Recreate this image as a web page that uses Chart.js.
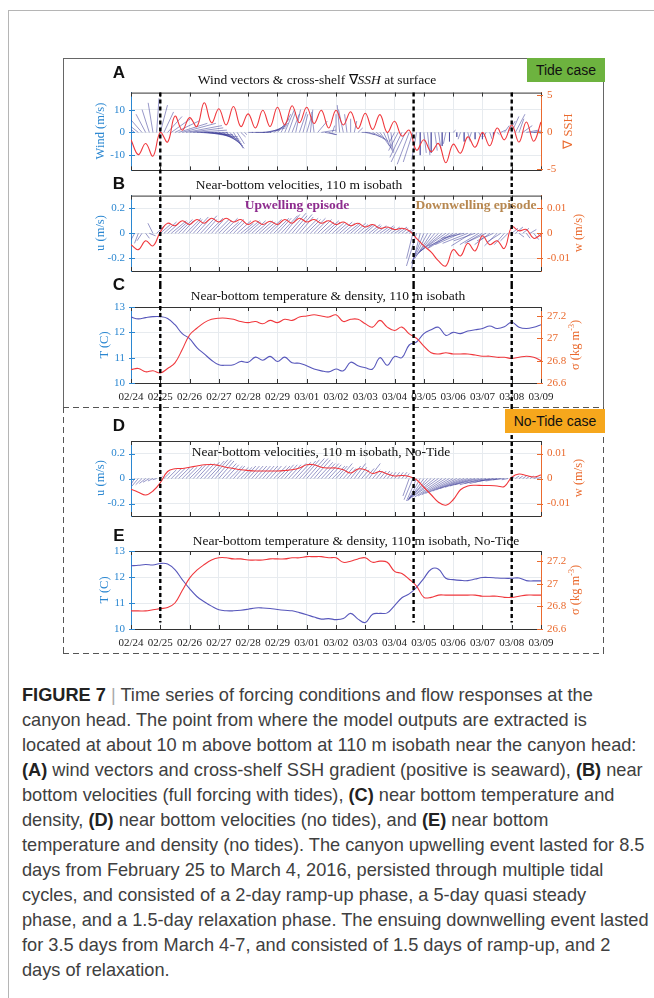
<!DOCTYPE html>
<html>
<head>
<meta charset="utf-8">
<script src="https://cdn.jsdelivr.net/npm/chart.js@4.4.1/dist/chart.umd.min.js"></script>
<style>
  body { margin: 0; background: #fff; }
  #page { position: relative; width: 654px; height: 998px; overflow: hidden; background: #fff; }
  canvas { position: absolute; }
  .t { position: absolute; white-space: nowrap; font-family: 'Liberation Serif', 'Times New Roman', serif; font-size: 13.5px; color: #111; line-height: 1; transform: translate(-50%, -50%); }
  .lbl { position: absolute; font-family: 'Liberation Sans', Arial, sans-serif; font-weight: bold; font-size: 17px; color: #111; line-height: 1; transform: translate(-50%, -50%); }
  .ax { position: absolute; white-space: nowrap; font-family: 'Liberation Serif', serif; font-size: 12.5px; line-height: 1; transform: translate(-50%, -50%) rotate(-90deg); }
  .axl { color: #2b87d1; }
  .axr { color: #ea6a2e; }
  .case { position: absolute; font-family: 'Liberation Sans', Arial, sans-serif; font-size: 14px; color: #111; display: flex; align-items: center; justify-content: center; }
  .hd { position: absolute; height: 1px; background: repeating-linear-gradient(to right, #555 0 6px, transparent 6px 10px); }
  .vd { position: absolute; width: 1px; background: repeating-linear-gradient(to bottom, #555 0 6px, transparent 6px 10px); }
  #cap { position: absolute; left: 22px; top: 683px; font-family: 'Liberation Sans', Arial, sans-serif; font-size: 18.2px; line-height: 25px; color: #404040; white-space: nowrap; }
  #cap b { color: #222; }
</style>
</head>
<body>
<div id="page">
  <div style="position:absolute;left:8px;top:10px;width:660px;height:1px;background:#b5b5b5"></div>
  <div style="position:absolute;left:8px;top:10px;width:1px;height:1000px;background:#b5b5b5"></div>

  <div style="position:absolute;left:63px;top:58px;width:539px;height:349px;border:1px solid #666;border-bottom:none"></div>
  <div class="hd" style="left:63px;top:407px;width:541px"></div>
  <div class="vd" style="left:63px;top:407px;height:247px"></div>
  <div class="vd" style="left:603px;top:407px;height:247px"></div>
  <div class="hd" style="left:63px;top:653px;width:541px"></div>

  <canvas id="cA" width="520" height="103" style="left:70px;top:80px"></canvas>
  <canvas id="cB" width="520" height="102" style="left:70px;top:183px"></canvas>
  <canvas id="cC" width="520" height="122" style="left:70px;top:285px"></canvas>
  <canvas id="cD" width="520" height="123" style="left:70px;top:407px"></canvas>
  <canvas id="cE" width="520" height="130" style="left:70px;top:530px"></canvas>

  <div class="case" style="left:527px;top:58px;width:78px;height:24px;background:#6db33f">Tide case</div>
  <div class="case" style="left:505px;top:409px;width:100px;height:24px;background:#f6a71c">No-Tide case</div>

  <div class="lbl" style="left:119px;top:72px">A</div>
  <div class="lbl" style="left:119px;top:183px">B</div>
  <div class="lbl" style="left:119px;top:284px">C</div>
  <div class="lbl" style="left:119px;top:425px">D</div>
  <div class="lbl" style="left:119px;top:535px">E</div>

  <div class="t" style="left:317px;top:80px">Wind vectors &amp; cross-shelf &#8711;<i>SSH</i> at surface</div>
  <div class="t" style="left:299px;top:185px">Near-bottom velocities, 110 m isobath</div>
  <div class="t" style="left:328px;top:296px">Near-bottom temperature &amp; density, 110 m isobath</div>
  <div class="t" style="left:321px;top:452px">Near-bottom velocities, 110 m isobath, No-Tide</div>
  <div class="t" style="left:356px;top:541px">Near-bottom temperature &amp; density, 110 m isobath, No-Tide</div>
  <div class="t" style="left:297px;top:205px;font-weight:bold;color:#8e2c8e">Upwelling episode</div>
  <div class="t" style="left:476px;top:205px;font-weight:bold;color:#b7874f">Downwelling episode</div>

  <div class="ax axl" style="left:100px;top:131px">Wind (m/s)</div>
  <div class="ax axl" style="left:100px;top:233px">u (m/s)</div>
  <div class="ax axl" style="left:104px;top:345px">T (C)</div>
  <div class="ax axl" style="left:100px;top:478px">u (m/s)</div>
  <div class="ax axl" style="left:104px;top:590px">T (C)</div>
  <div class="ax axr" style="left:568px;top:131px">&#8711; SSH</div>
  <div class="ax axr" style="left:578px;top:233px">w (m/s)</div>
  <div class="ax axr" style="left:575px;top:345px">&sigma; (kg m<sup style="font-size:8px">-3</sup>)</div>
  <div class="ax axr" style="left:578px;top:478px">w (m/s)</div>
  <div class="ax axr" style="left:575px;top:590px">&sigma; (kg m<sup style="font-size:8px">-3</sup>)</div>

  <div id="cap"><b>FIGURE 7</b> <span style="color:#aaa">|</span> Time series of forcing conditions and flow responses at the<br>canyon head. The point from where the model outputs are extracted is<br>located at about 10 m above bottom at 110 m isobath near the canyon head:<br><b>(A)</b> wind vectors and cross-shelf SSH gradient (positive is seaward), <b>(B)</b> near<br>bottom velocities (full forcing with tides), <b>(C)</b> near bottom temperature and<br>density, <b>(D)</b> near bottom velocities (no tides), and <b>(E)</b> near bottom<br>temperature and density (no tides). The canyon upwelling event lasted for 8.5<br>days from February 25 to March 4, 2016, persisted through multiple tidal<br>cycles, and consisted of a 2-day ramp-up phase, a 5-day quasi steady<br>phase, and a 1.5-day relaxation phase. The ensuing downwelling event lasted<br>for 3.5 days from March 4-7, and consisted of 1.5 days of ramp-up, and 2<br>days of relaxation.</div>
</div>

<script>
// x axis: days since 02/24 (2016), one tick per day
const tickLabels = ['02/24', '02/25', '02/26', '02/27', '02/28', '02/29', '03/01', '03/02',
  '03/03', '03/04', '03/05', '03/06', '03/07', '03/08', '03/09'];
const eventDays = [1.0, 9.65, 13.0];   // dotted black markers
const lineStep = 0.25;    // days between samples of the line series
const stickStep = 0.125;  // days between vectors of the stick plots

// A: wind vectors (m/s) and cross-shelf SSH gradient
const windU = [
  -4, -5, -6, -5, -4, -3, -2, 1,
  3, 4, 6, 8, 10, 12, 14, 15,
  14, 14, 13, 12, 12, 11, 11, 10,
  9, 8, 7, 6, 4, 3, 2, 1,
  2, 3, 4, 5, 7, 8, 7, 6,
  5, 4, 4, 3, 3, 2, 3, 2,
  2, 1, -1, 4, 6, 5, 3, 1,
  0, -1, -2, -1, 0, 1, 2, 3,
  4, 5, 5, 5, 4, 3, 2, 1,
  -2, -4, -5, -6, -5, -4, -2, 0,
  1, 1, 0, 1, 1, 0, -1, 0,
  1, 0, -1, 0, 1, -1, 0, 1,
  0, -1, 1, 0, 1, 2, 2, 3,
  3, 4, 2, 4, 5, 6, 5, 4,
  3];
const windV = [
  3, 4, 5, 6, 8, 10, 13, 15,
  12, 9, 7, 6, 5, 4, 4, 3,
  2, 1, 0, -1, -1, -2, -2, -3,
  -4, -5, -6, -7, -7, -5, -2, -1,
  0, 0, 0, 0, 1, 2, 3, 4,
  6, 8, 10, 9, 8, 10, 9, 8,
  7, 10, 9, 5, 1, -1, -1, 3,
  8, 12, 10, 8, 6, 5, 2, 0,
  -1, -2, -3, -4, -6, -7, -8, -9,
  -4, -8, -11, -13, -14, -13, -12, -10,
  -9, -10, -9, -8, -7, -6, -5, -4,
  1, -2, -3, -4, -4, -3, -3, -2,
  -3, -2, -3, -2, -1, 1, 3, 5,
  7, 8, 6, 3, 1, 0, 1, -1,
  1];
const sshGrad = [-1.0, -3.0, -1.5, -3.2, 0.0, -1.3, 2.2, 0.3, 2.0, 0.8, 4.0, 1.3, 3.2, 1.0, 3.5,
  0.8, 2.5, 0.6, 3.0, 0.8, 3.4, 1.0, 3.6, 1.3, 3.4, 1.2, 3.0, 0.6, 3.0, 1.0, 2.8, 0.5, 2.6,
  0.4, 2.4, 0.0, 1.5, -0.5, 0.3, -2.4, -1.0, -2.6, -1.5, -4.1, -1.6, -2.8, -0.6, -2.0, 0.0,
  -1.8, 0.6, -1.0, 1.0, -1.3, 1.4, -1.2, 1.4];

// B: near-bottom velocities with tides
const velUB = [
  -0.03, -0.04, -0.03, -0.04, 0.03, 0.05, -0.04, 0.06,
  0.08, 0.10, 0.09, 0.12, 0.10, 0.11, 0.09, 0.12,
  0.10, 0.12, 0.11, 0.13, 0.10, 0.12, 0.09, 0.11,
  0.10, 0.12, 0.10, 0.11, 0.09, 0.11, 0.10, 0.12,
  0.10, 0.11, 0.09, 0.11, 0.10, 0.12, 0.10, 0.12,
  0.11, 0.13, 0.12, 0.14, 0.12, 0.13, 0.11, 0.12,
  0.11, 0.12, 0.10, 0.11, 0.10, 0.11, 0.09, 0.10,
  0.09, 0.10, 0.09, 0.10, 0.08, 0.09, 0.08, 0.09,
  0.08, 0.09, 0.07, 0.08, 0.07, 0.08, 0.06, 0.07,
  0.06, 0.07, 0.05, 0.05, 0.04, -0.05, -0.08, -0.07,
  -0.10, -0.12, -0.13, -0.15, -0.16, -0.18, -0.20, -0.18,
  -0.20, -0.22, -0.20, -0.18, -0.20, -0.16, -0.17, -0.15,
  -0.14, -0.15, -0.12, -0.13, -0.10, -0.11, -0.08, -0.06,
  0.05, 0.06, 0.04, 0.05, 0.03, 0.05, 0.04, 0.03,
  0.02];
const velVB = [
  -0.05, -0.07, -0.08, -0.06, -0.04, -0.02, 0.08, 0.06,
  0.07, 0.09, 0.08, 0.10, 0.09, 0.11, 0.10, 0.12,
  0.11, 0.13, 0.12, 0.14, 0.11, 0.12, 0.10, 0.11,
  0.10, 0.12, 0.09, 0.11, 0.09, 0.10, 0.08, 0.10,
  0.09, 0.10, 0.08, 0.10, 0.09, 0.11, 0.10, 0.12,
  0.12, 0.14, 0.15, 0.16, 0.14, 0.15, 0.13, 0.12,
  0.11, 0.12, 0.10, 0.11, 0.09, 0.10, 0.09, 0.09,
  0.08, 0.09, 0.08, 0.08, 0.07, 0.08, 0.07, 0.07,
  0.07, 0.07, 0.06, 0.06, 0.05, 0.06, 0.05, 0.05,
  0.04, 0.05, 0.04, 0.03, 0.03, -0.20, -0.26, -0.28,
  -0.24, -0.22, -0.20, -0.18, -0.16, -0.15, -0.14, -0.12,
  -0.12, -0.10, -0.09, -0.04, -0.08, -0.10, -0.06, -0.09,
  -0.08, -0.07, -0.09, -0.06, -0.10, -0.07, -0.09, -0.06,
  0.04, 0.05, -0.03, 0.04, -0.04, 0.03, -0.05, -0.03,
  -0.02];
const wB = [-0.0045, -0.0065, -0.003, -0.005, 0.0005, 0.004, 0.003, 0.005, 0.0035, 0.0055,
  0.004, 0.006, 0.0045, 0.006, 0.0045, 0.0055, 0.0035, 0.005, 0.0035, 0.0048,
  0.0035, 0.0055, 0.004, 0.006, 0.0045, 0.0055, 0.004, 0.005, 0.0035, 0.0045,
  0.003, 0.004, 0.0025, 0.0035, 0.002, 0.0025, 0.0015, 0.002, 0.001, -0.002,
  -0.005, -0.0075, -0.011, -0.013, -0.0065, -0.009, -0.004, -0.007, -0.001, -0.0045,
  -0.003, -0.006, 0.0025, 0.001, 0.0015, -0.002, -0.0005];

// C: near-bottom temperature (C) and density (kg m-3) with tides
const tempC = [12.6, 12.53, 12.58, 12.62, 12.62, 12.55, 12.3, 11.95, 11.75, 11.4,
  11.15, 10.9, 10.72, 10.7, 10.72, 10.85, 10.82, 11.02, 10.9, 11.05,
  10.85, 11.02, 10.8, 10.78, 10.68, 10.55, 10.48, 10.44, 10.55, 10.48,
  10.82, 10.68, 10.6, 10.55, 11.0, 10.7, 11.05, 11.0, 11.5, 11.62,
  11.95, 12.1, 12.2, 11.88, 12.0, 11.95, 12.05, 12.1, 12.15, 12.25,
  12.15, 12.22, 12.4, 12.2, 12.15, 12.2, 12.3];
const sigmaC = [26.72, 26.73, 26.7, 26.71, 26.69, 26.73, 26.78, 26.9, 27.03, 27.09,
  27.14, 27.17, 27.18, 27.18, 27.17, 27.15, 27.14, 27.15, 27.13, 27.16,
  27.14, 27.17, 27.16, 27.19, 27.2, 27.21, 27.2, 27.19, 27.21, 27.15,
  27.17, 27.17, 27.13, 27.1, 27.16, 27.1, 27.07, 27.1, 27.04, 27.0,
  26.93, 26.87, 26.86, 26.87, 26.86, 26.86, 26.86, 26.85, 26.84, 26.84,
  26.83, 26.83, 26.82, 26.83, 26.84, 26.83, 26.8];

// D: near-bottom velocities, no tide
const velUD = [
  -0.03, -0.04, -0.05, -0.05, -0.05, -0.05, -0.04, -0.03,
  0.02, 0.05, 0.07, 0.08, 0.08, 0.09, 0.09, 0.09,
  0.10, 0.10, 0.11, 0.11, 0.12, 0.13, 0.13, 0.13,
  0.12, 0.11, 0.10, 0.10, 0.09, 0.09, 0.09, 0.09,
  0.09, 0.09, 0.09, 0.09, 0.09, 0.09, 0.09, 0.10,
  0.10, 0.10, 0.10, 0.10, 0.11, 0.12, 0.13, 0.13,
  0.14, 0.14, 0.13, 0.12, 0.11, 0.11, 0.10, 0.10,
  0.09, 0.10, 0.08, 0.07, 0.08, 0.09, 0.07, 0.06,
  0.07, 0.09, 0.06, 0.05, 0.05, 0.05, 0.04, 0.04,
  0.04, 0.04, 0.04, 0.03, -0.05, -0.07, -0.08, -0.10,
  -0.12, -0.15, -0.18, -0.20, -0.21, -0.22, -0.22, -0.22,
  -0.22, -0.22, -0.22, -0.22, -0.22, -0.21, -0.20, -0.19,
  -0.18, -0.17, -0.16, -0.15, -0.14, -0.12, -0.09, -0.05,
  0.02, 0.03, 0.03, 0.03, 0.03, 0.03, 0.03, 0.03,
  0.02];
const velVD = [
  -0.07, -0.065, -0.06, -0.05, -0.04, -0.03, -0.02, -0.01,
  0.02, 0.05, 0.07, 0.08, 0.08, 0.09, 0.09, 0.09,
  0.10, 0.11, 0.12, 0.12, 0.13, 0.14, 0.15, 0.15,
  0.14, 0.12, 0.11, 0.10, 0.10, 0.09, 0.09, 0.10,
  0.10, 0.10, 0.10, 0.10, 0.10, 0.10, 0.10, 0.10,
  0.10, 0.11, 0.11, 0.11, 0.12, 0.13, 0.14, 0.15,
  0.16, 0.16, 0.15, 0.13, 0.12, 0.12, 0.11, 0.10,
  0.10, 0.12, 0.09, 0.08, 0.10, 0.12, 0.09, 0.07,
  0.08, 0.12, 0.07, 0.06, 0.06, 0.06, 0.05, 0.05,
  0.05, 0.05, 0.05, 0.04, -0.14, -0.17, -0.18, -0.18,
  -0.17, -0.17, -0.16, -0.16, -0.15, -0.15, -0.14, -0.13,
  -0.12, -0.11, -0.10, -0.09, -0.08, -0.07, -0.06, -0.05,
  -0.05, -0.04, -0.04, -0.03, -0.02, -0.02, -0.01, -0.01,
  0.01, 0.02, 0.02, 0.02, 0.02, 0.02, 0.01, 0.01,
  0.01];
const wD = [-0.0043, -0.0055, -0.0066, -0.005, -0.0017, 0.0028, 0.0039, 0.004, 0.0045, 0.005,
  0.0055, 0.0056, 0.0052, 0.0045, 0.004, 0.0035, 0.0032, 0.003, 0.003, 0.003,
  0.003, 0.0032, 0.0035, 0.0042, 0.0055, 0.0055, 0.0045, 0.0042, 0.0042, 0.0035,
  0.0022, 0.0038, 0.0035, 0.002, 0.0028, 0.0018, 0.001, 0.0012, 0.0008, -0.0005,
  -0.0035, -0.0065, -0.0095, -0.0107, -0.0085, -0.0045, -0.003, -0.0027, -0.0028, -0.0028,
  -0.003, -0.0032, 0.0005, 0.0018, 0.0012, 0.0006, 0.0014];

// E: near-bottom temperature and density, no tide
const tempE = [12.43, 12.45, 12.48, 12.46, 12.52, 12.5, 12.28, 11.9, 11.55, 11.25,
  11.05, 10.88, 10.74, 10.7, 10.7, 10.72, 10.76, 10.81, 10.81, 10.79,
  10.75, 10.72, 10.7, 10.63, 10.55, 10.46, 10.38, 10.4, 10.36, 10.4,
  10.6, 10.38, 10.25, 10.57, 10.6, 10.62, 10.9, 11.2, 11.35, 11.6,
  11.95, 12.3, 12.3, 11.95, 11.9, 11.87, 11.86, 11.92, 11.98, 11.98,
  11.96, 11.95, 11.95, 11.96, 11.86, 11.85, 11.85];
const sigmaE = [26.76, 26.76, 26.76, 26.77, 26.78, 26.79, 26.83, 26.94, 27.05, 27.12,
  27.17, 27.21, 27.23, 27.23, 27.22, 27.22, 27.21, 27.21, 27.21, 27.22,
  27.22, 27.22, 27.23, 27.23, 27.24, 27.24, 27.24, 27.23, 27.23, 27.19,
  27.2, 27.22, 27.23, 27.19, 27.2, 27.19, 27.11, 27.09, 27.04, 26.98,
  26.88, 26.88, 26.9, 26.9, 26.9, 26.9, 26.9, 26.9, 26.89, 26.89,
  26.89, 26.88, 26.88, 26.89, 26.9, 26.9, 26.9];

const BLUE_AX = '#2b87d1';
const ORANGE_AX = '#ea6a2e';
const RED = '#f0373c';
const TEMP = '#5757bb';
const STICK = 'rgba(55,55,150,0.75)';
const GRID = '#e7ebef';

Chart.defaults.font.family = "'Liberation Serif', 'Times New Roman', serif";

function lineSeries(values) {
  return values.map((v, i) => ({ x: i * lineStep, y: v }));
}

// each vector: base on the zero line, tip shifted by u (converted to days) and v
function stickSeries(u, v, daysPerUnit) {
  const pts = [];
  u.forEach((uu, i) => {
    const t = i * stickStep;
    pts.push({ x: t, y: 0 }, { x: t + uu * daysPerUnit, y: v[i] }, { x: t, y: null });
  });
  return pts;
}

const framePlugin = {
  id: 'frame',
  afterDraw(chart) {
    const { ctx, chartArea: a, scales } = chart;
    ctx.save();
    ctx.lineWidth = 1;
    ctx.strokeStyle = '#333';
    ctx.beginPath();
    ctx.moveTo(a.left, a.top + 0.5);
    ctx.lineTo(a.right, a.top + 0.5);
    scales.x.ticks.forEach(tk => {
      const p = Math.round(scales.x.getPixelForValue(tk.value)) + 0.5;
      ctx.moveTo(p, a.top); ctx.lineTo(p, a.top + 4);
      ctx.moveTo(p, a.bottom); ctx.lineTo(p, a.bottom - 4);
    });
    ctx.stroke();
    [['yL', 1], ['yR', -1]].forEach(([id, dir]) => {
      const s = scales[id];
      const x0 = dir > 0 ? a.left : a.right;
      ctx.strokeStyle = s.options.border.color;
      ctx.beginPath();
      s.ticks.forEach(tk => {
        const p = Math.round(s.getPixelForValue(tk.value)) + 0.5;
        ctx.moveTo(x0 - 2 * dir, p); ctx.lineTo(x0 + 4 * dir, p);
      });
      ctx.stroke();
    });
    ctx.restore();
  }
};

const eventPlugin = {
  id: 'eventLines',
  afterDraw(chart, args, opts) {
    const { ctx, chartArea: a, scales } = chart;
    const top = opts.fromArea ? a.top : 0;
    const bottom = opts.stopAt != null ? scales.yL.getPixelForValue(opts.stopAt) : chart.height;
    ctx.save();
    ctx.strokeStyle = '#000';
    ctx.lineWidth = 2.4;
    ctx.setLineDash([4, 3]);
    eventDays.forEach(d => {
      const p = scales.x.getPixelForValue(d);
      ctx.beginPath(); ctx.moveTo(p, top); ctx.lineTo(p, bottom); ctx.stroke();
    });
    ctx.restore();
  }
};

function makePanel(id, cfg) {
  const tickFont = { family: "'Liberation Serif', serif", size: 11 };
  return new Chart(document.getElementById(id), {
    type: 'line',
    data: { datasets: cfg.datasets },
    options: {
      responsive: false,
      animation: false,
      devicePixelRatio: 1,
      layout: { padding: { top: cfg.padTop, left: 0, right: 0, bottom: 0 } },
      elements: { point: { radius: 0 } },
      plugins: { legend: { display: false }, tooltip: { enabled: false }, eventLines: cfg.events },
      scales: {
        x: {
          type: 'linear', min: 0, max: 14,
          afterBuildTicks: s => { s.ticks = tickLabels.map((_, i) => ({ value: i })); },
          afterFit: s => { s.height = cfg.xHeight; },
          ticks: { display: cfg.showX, autoSkip: false, maxRotation: 0, padding: 8, color: '#222', font: tickFont,
                   callback: (v, i) => tickLabels[i] },
          grid: { color: GRID, drawTicks: false },
          border: { color: '#333' }
        },
        yL: {
          position: 'left', min: cfg.left[0], max: cfg.left[1],
          afterBuildTicks: s => { s.ticks = cfg.leftTicks.map(v => ({ value: v })); },
          afterFit: s => { s.width = 61; },
          ticks: { color: BLUE_AX, font: tickFont, padding: 6, callback: v => String(v) },
          grid: { color: GRID, drawTicks: false },
          border: { color: BLUE_AX }
        },
        yR: {
          position: 'right', min: cfg.right[0], max: cfg.right[1],
          afterBuildTicks: s => { s.ticks = cfg.rightTicks.map(v => ({ value: v })); },
          afterFit: s => { s.width = 49; },
          ticks: { color: ORANGE_AX, font: tickFont, padding: 6, callback: v => String(v) },
          grid: { display: false, drawTicks: false },
          border: { color: ORANGE_AX }
        }
      }
    },
    plugins: [framePlugin, eventPlugin]
  });
}

function redLine(values) {
  return { data: lineSeries(values), yAxisID: 'yR', borderColor: RED, borderWidth: 1.1, tension: 0.4, pointRadius: 0 };
}
function tempLine(values) {
  return { data: lineSeries(values), yAxisID: 'yL', borderColor: TEMP, borderWidth: 1.1, tension: 0.4, pointRadius: 0 };
}
function sticks(u, v, k) {
  return { data: stickSeries(u, v, k), yAxisID: 'yL', borderColor: STICK, borderWidth: 0.7, tension: 0, pointRadius: 0, spanGaps: false };
}

makePanel('cA', {
  padTop: 9, xHeight: 12, showX: false, events: { fromArea: true },
  left: [-16.7, 17.5], leftTicks: [-10, 0, 10],
  right: [-5.13, 5.38], rightTicks: [-5, 0, 5],
  datasets: [redLine(sshGrad), sticks(windU, windV, 0.082)]
});
makePanel('cB', {
  padTop: 12, xHeight: 14, showX: false, events: {},
  left: [-0.3, 0.3], leftTicks: [-0.2, 0, 0.2],
  right: [-0.015, 0.015], rightTicks: [-0.01, 0, 0.01],
  datasets: [redLine(wB), sticks(velUB, velVB, 4.3)]
});
makePanel('cC', {
  padTop: 22, xHeight: 24, showX: true, events: {},
  left: [10, 13], leftTicks: [10, 11, 12, 13],
  right: [26.6, 27.28], rightTicks: [26.6, 26.8, 27, 27.2],
  datasets: [redLine(sigmaC), tempLine(tempC)]
});
makePanel('cD', {
  padTop: 34, xHeight: 14, showX: false, events: {},
  left: [-0.3, 0.3], leftTicks: [-0.2, 0, 0.2],
  right: [-0.015, 0.015], rightTicks: [-0.01, 0, 0.01],
  datasets: [redLine(wD), sticks(velUD, velVD, 4.3)]
});
makePanel('cE', {
  padTop: 21, xHeight: 31, showX: true, events: { stopAt: 10.25 },
  left: [10, 13], leftTicks: [10, 11, 12, 13],
  right: [26.6, 27.29], rightTicks: [26.6, 26.8, 27, 27.2],
  datasets: [redLine(sigmaE), tempLine(tempE)]
});
</script>
</body>
</html>
